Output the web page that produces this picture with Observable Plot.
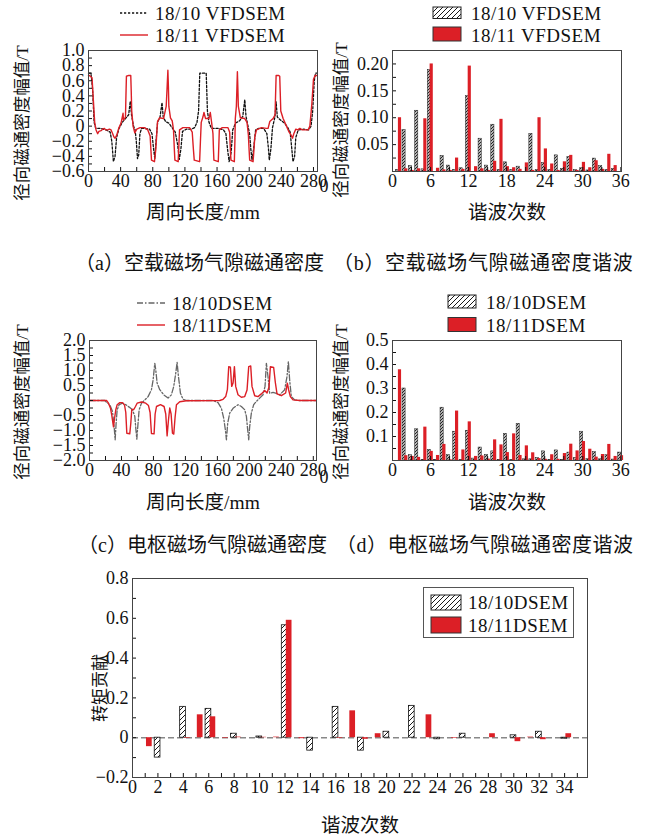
<!DOCTYPE html>
<html><head><meta charset="utf-8">
<script src="https://cdn.jsdelivr.net/npm/d3@7"></script>
<script src="https://cdn.jsdelivr.net/npm/@observablehq/plot@0.6"></script>
<style>
body{margin:0;background:#fff;}
#root{position:relative;width:646px;height:839px;overflow:hidden;background:#fff;}
</style></head><body>
<svg width="0" height="0" style="position:absolute">
<defs>
<pattern id="hatchS" patternUnits="userSpaceOnUse" width="3" height="3">
<rect width="3" height="3" fill="#b4b4b4"/>
<path d="M-1,1 l2,-2 M0,3 l3,-3 M2,4 l2,-2" stroke="#000" stroke-width="0.8"/>
</pattern>
<pattern id="hatchL" patternUnits="userSpaceOnUse" width="5" height="5">
<rect width="5" height="5" fill="#fff"/>
<path d="M-1,1 l2,-2 M0,5 l5,-5 M4,6 l2,-2" stroke="#000" stroke-width="0.9"/>
</pattern>
</defs></svg>
<div id="root"></div>
<script>
// ---------- data ----------
// (a) no-load air-gap flux density [mm, T]
const noLoad1810 = [[0,0.7],[3,0.7],[5,0.5],[7,0.05],[9,-0.03],[15,-0.03],[22,-0.05],[27,-0.08],[29,-0.2],[31,-0.47],[33,-0.4],[35,-0.15],[38,-0.03],[42,0.05],[46,0.1],[50,0.15],[52,0.33],[53.5,0.15],[56,0.0],[58,-0.05],[59.5,-0.2],[61,-0.43],[62.5,-0.38],[64,-0.1],[66,-0.03],[70,-0.03],[76,-0.04],[79,-0.1],[81,-0.3],[82.5,-0.43],[84,-0.2],[86,0.05],[89,0.12],[91.5,0.31],[93,0.12],[96,0.06],[100,0.04],[104,-0.02],[108,-0.08],[111,-0.25],[113,-0.44],[115,-0.3],[117,-0.07],[122,-0.04],[128,-0.04],[132,-0.02],[135,0.05],[137,0.2],[138.5,0.7],[146.5,0.7],[148,0.2],[150,0.05],[153,-0.03],[162,-0.03],[168,-0.05],[171,-0.1],[173,-0.3],[175,-0.47],[177.5,-0.35],[179.5,-0.05],[183,0.04],[188,0.07],[192,0.13],[194.5,0.35],[196,0.13],[198.5,0.0],[200.5,-0.1],[202,-0.3],[203.5,-0.45],[205.5,-0.3],[208,-0.05],[212,-0.03],[218,-0.03],[222,-0.1],[224,-0.3],[225,-0.45],[227,-0.3],[229,-0.02],[232,0.12],[233.5,0.32],[235,0.12],[239,0.08],[244,0.04],[248,-0.02],[251,-0.08],[253,-0.3],[254.5,-0.47],[256.5,-0.4],[258,-0.15],[261,-0.05],[268,-0.04],[274,-0.05],[277,0.0],[279,0.2],[281,0.6],[282.5,0.7],[284.5,0.7]];
const noLoad1811 = [[0,0.67],[1,0.67],[4.4,0.64],[6,0.35],[7.7,0.05],[9.4,-0.05],[11.4,-0.1],[13,-0.07],[15.6,-0.06],[17.5,-0.04],[19.8,-0.03],[21.5,-0.05],[23.9,-0.05],[26,-0.04],[28.1,-0.05],[30.1,-0.1],[31.5,-0.14],[33.1,-0.16],[35.1,-0.12],[37.6,-0.03],[40.5,0.04],[43,0.17],[43.5,0.08],[46,0.12],[46.6,0.4],[47.2,0.66],[50.1,0.67],[52.6,0.67],[53.2,0.45],[53.8,0.2],[55.5,0.0],[57.6,-0.09],[60.1,-0.04],[64.2,-0.02],[69.6,-0.02],[73.8,-0.05],[76.7,-0.13],[77.6,-0.3],[78.4,-0.45],[82.1,-0.47],[83.8,-0.3],[85.9,0.06],[88.4,0.11],[93.4,0.1],[96.7,0.26],[98,0.55],[98.8,0.74],[99.5,0.5],[100,0.26],[102,0.11],[104.2,0.07],[105.8,-0.05],[106.8,-0.3],[107.5,-0.45],[111.6,-0.47],[112.5,-0.25],[113.3,-0.05],[117.5,-0.02],[125.8,-0.02],[129.1,-0.08],[130.5,-0.3],[131.6,-0.45],[138.3,-0.47],[139.3,-0.2],[140.3,0.05],[142.4,0.12],[143.7,0.18],[145.7,0.1],[149.9,0.1],[151.6,0.18],[153.2,0.05],[154.9,-0.1],[155.5,-0.3],[156.1,-0.45],[161.5,-0.47],[162.2,-0.25],[162.8,-0.05],[166.5,-0.02],[173.6,-0.02],[175.7,-0.08],[176.5,-0.3],[177.3,-0.45],[181.5,-0.47],[182.2,-0.2],[182.7,0.1],[184,0.26],[184.7,0.5],[185.3,0.72],[185.9,0.5],[186.5,0.26],[189,0.11],[194.4,0.1],[197.3,0.05],[199,-0.12],[199.8,-0.3],[200.6,-0.45],[204.8,-0.47],[206,-0.3],[206.9,-0.15],[209,-0.05],[215.2,-0.02],[221.4,-0.03],[223.5,-0.03],[225.6,0.06],[229.7,0.1],[232.2,0.15],[232.8,0.4],[233.5,0.67],[236.8,0.67],[238,0.66],[238.6,0.45],[239.3,0.2],[242.2,0.1],[246.4,0.0],[249.7,-0.08],[252.2,-0.12],[253.9,-0.16],[255.5,-0.1],[258,-0.04],[260.5,-0.05],[263,-0.03],[266,-0.05],[269.2,-0.05],[273.4,-0.05],[275.5,0.0],[278,0.3],[280,0.62],[282,0.67],[284.5,0.67]];
// (c) armature air-gap flux density [mm, T]
const arm1810 = [[0,0],[19.2,0],[21.3,-0.06],[25.4,-0.14],[28.8,-0.37],[30.8,-0.87],[32.1,-1.31],[33.3,-0.76],[34.6,-0.31],[37.1,-0.14],[41.3,-0.09],[45.4,-0.14],[49.6,-0.22],[53.8,-0.31],[56.7,-0.53],[57.9,-0.92],[59.2,-1.29],[60.4,-0.87],[62.1,-0.31],[65,-0.09],[69.2,0.02],[73.3,0.13],[77.5,0.36],[79.6,0.69],[81.7,1.24],[82.9,1.02],[84.6,0.58],[87.9,0.36],[92.9,0.19],[98.3,0.08],[102.5,0.19],[105.4,0.47],[107.9,0.91],[109.6,1.27],[111.3,0.8],[113.8,0.24],[117.1,0.04],[121.3,0],[154.6,0],[160.8,-0.07],[165,-0.26],[167.9,-0.59],[170,-0.98],[171.3,-1.31],[172.9,-0.76],[175.4,-0.42],[179.6,-0.26],[185.8,-0.14],[190,-0.2],[194.2,-0.31],[196.3,-0.53],[197.9,-0.98],[199.2,-1.31],[200.4,-0.87],[202.5,-0.42],[205.4,-0.14],[208.8,-0.03],[212.9,0.08],[217.1,0.19],[219.6,0.47],[221.3,1.24],[223.3,0.8],[225.4,0.24],[229.6,0.27],[233.8,0.24],[237.9,0.19],[244.2,0.36],[247.1,0.8],[248.8,1.3],[250.4,0.69],[252.5,0.13],[256.7,0.02],[262.9,0],[283.7,0]];
const arm1811 = [[0,0],[21.3,0],[23.3,-0.07],[26.3,-0.26],[27.9,-0.5],[30,-0.88],[31.3,-0.6],[32.9,-0.31],[34.6,-0.14],[37.9,-0.07],[41.3,-0.07],[43.8,-0.15],[45.4,-0.4],[46.7,-1.09],[50.4,-1.11],[51.7,-0.75],[52.9,-0.3],[55.4,-0.3],[57.5,-0.2],[59.6,-0.09],[65,-0.05],[70.4,-0.09],[73.8,-0.17],[75.8,-0.4],[77.5,-1.1],[80.8,-1.11],[82.1,-0.45],[83.8,-0.2],[88.8,-0.14],[93.3,-0.2],[95.4,-0.45],[97.1,-1.18],[98.8,-0.65],[100.4,-0.25],[102.1,-0.45],[103.8,-1.09],[105.4,-1.12],[107.1,-0.55],[108.8,-0.14],[112.9,-0.04],[121.3,-0.01],[162.9,0],[167.1,0.04],[170.4,0.13],[172.5,0.36],[174.2,1.13],[176.3,1.11],[177.9,0.47],[179.6,0.58],[181.3,1.13],[182.9,0.47],[185.8,0.19],[190,0.11],[194.2,0.13],[197.1,0.35],[199.2,1.13],[201.7,1.15],[203.3,0.47],[206.7,0.16],[210.8,0.13],[215,0.22],[219.2,0.33],[222.1,0.25],[224.6,0.45],[226.3,1.13],[230.4,1.1],[232.5,0.6],[234.6,0.22],[240,0.16],[245.4,0.25],[247.5,0.58],[249.2,0.35],[251.3,0.13],[254.6,0.02],[262.9,0],[283.7,0]];
// (b) no-load harmonics
const harmB = [1,2,3,4,5,6,7,8,9,10,11,12,13,14,15,16,17,18,19,20,21,22,23,24,25,26,27,28,29,30,31,32,33,34,35];
const b1810 = [0.003,0.077,0.010,0.113,0.004,0.189,0.000,0.029,0.011,0.003,0.006,0.140,0.000,0.061,0.011,0.087,0.003,0.017,0.003,0.009,0.000,0.070,0.003,0.016,0.003,0.030,0.005,0.027,0.003,0.006,0.002,0.024,0.010,0.003,0.005];
const b1811 = [0.100,0.005,0.002,0.005,0.098,0.200,0.006,0.003,0.002,0.025,0.004,0.196,0.009,0.005,0.002,0.019,0.097,0.009,0.007,0.004,0.016,0.002,0.100,0.042,0.014,0.002,0.018,0.030,0.002,0.017,0.007,0.020,0.004,0.032,0.011];
// (d) armature harmonics
const harmD = [1,2,3,4,5,6,7,8,9,10,11,12,13,14,15,16,17,18,19,20,21,22,23,24,25,26,27,28,29,30,31,32,33,34,35,36];
const d1810 = [0.000,0.300,0.022,0.130,0.003,0.044,0.003,0.220,0.022,0.120,0.003,0.124,0.008,0.054,0.024,0.038,0.003,0.111,0.003,0.153,0.005,0.005,0.011,0.038,0.003,0.042,0.003,0.033,0.010,0.120,0.006,0.035,0.005,0.022,0.004,0.033];
const d1811 = [0.378,0.020,0.017,0.013,0.139,0.038,0.021,0.067,0.003,0.206,0.044,0.161,0.017,0.019,0.006,0.086,0.065,0.033,0.111,0.021,0.061,0.032,0.008,0.005,0.024,0.005,0.029,0.068,0.040,0.079,0.047,0.014,0.025,0.067,0.017,0.020];
// (e) torque contribution
const harmE = [1,2,3,4,5,6,7,8,9,10,11,12,13,14,15,16,17,18,19,20,21,22,23,24,25,26,27,28,29,30,31,32,33,34,35];
const e1810 = [0,-0.100,0,0.155,0,0.145,0,0.020,0,0.006,0,0.565,0,-0.065,0,0.155,0,-0.065,0,0.030,0,0.160,0,-0.008,0,0.020,0,0,0,0.012,0,0.030,0,-0.005,0];
const e1811 = [-0.045,0,0,-0.003,0.115,0.105,-0.003,0.003,0,0.002,0.003,0.590,-0.005,0,0,-0.003,0.135,-0.008,0.020,0,0,0,0.115,0,-0.003,0,0,0.020,0,-0.020,0.003,-0.010,0,0.020,0];
// ticks
const mmTicks = [0,20,40,60,80,100,120,140,160,180,200,220,240,260,280];
const mmLabels = [0,40,80,120,160,200,240,280];
const aYTicks = [-0.6,-0.5,-0.4,-0.3,-0.2,-0.1,0,0.1,0.2,0.3,0.4,0.5,0.6,0.7,0.8,0.9,1.0];
const aYLabels = [-0.6,-0.4,-0.2,0,0.2,0.4,0.6,0.8,1.0];
const cYTicks = [-2,-1.75,-1.5,-1.25,-1,-0.75,-0.5,-0.25,0,0.25,0.5,0.75,1,1.25,1.5,1.75,2];
const cYLabels = [-2,-1.5,-1,-0.5,0,0.5,1,1.5,2];
const hTicks = [0,3,6,9,12,15,18,21,24,27,30,33,36];
const hLabels = [0,6,12,18,24,30,36];
const bYTicks = [0.025,0.05,0.075,0.1,0.125,0.15,0.175,0.2];
const bYLabels = [0.05,0.10,0.15,0.20];
const dYTicks = [0.05,0.1,0.15,0.2,0.25,0.3,0.35,0.4,0.45,0.5];
const dYLabels = [0.1,0.2,0.3,0.4,0.5];
const eXTicks = [0,1,2,3,4,5,6,7,8,9,10,11,12,13,14,15,16,17,18,19,20,21,22,23,24,25,26,27,28,29,30,31,32,33,34,35];
const eXLabels = [0,2,4,6,8,10,12,14,16,18,20,22,24,26,28,30,32,34];
const eYTicks = [-0.2,-0.1,0,0.1,0.2,0.3,0.4,0.5,0.6,0.7,0.8];
const eYLabels = [-0.2,0,0.2,0.4,0.6,0.8];

// ---------- drawing ----------
const root = document.getElementById("root");
const SERIF = "'Liberation Serif','Noto Sans CJK SC',serif";
const RED = "#dc1f26";
const fmt = k => d => d === 0 ? "0" : (d < 0 ? "−" : "") + Math.abs(d).toFixed(k);

function panel(o) {
  const p = Plot.plot({
    width: o.width, height: o.height,
    marginTop: o.m[0], marginRight: o.m[1], marginBottom: o.m[2], marginLeft: o.m[3],
    x: {domain: o.xDomain}, y: {domain: o.yDomain},
    style: {fontFamily: SERIF, fontSize: "18px", color: "#111", background: "transparent", overflow: "visible"},
    marks: [
      ...o.marks,
      Plot.axisX(o.xTicks, {tickSize: -4, tickFormat: () => "", label: null}),
      Plot.axisX(o.xLabels, {tickSize: 0, tickPadding: 3, tickFormat: o.xFmt, label: null}),
      Plot.axisY(o.yTicks, {tickSize: -4, tickFormat: () => "", label: null}),
      Plot.axisY(o.yLabels, {tickSize: 0, tickPadding: 4, tickFormat: o.yFmt, label: null}),
      Plot.frame({stroke: "#444", strokeWidth: 1})
    ]
  });
  p.style.position = "absolute";
  p.style.left = o.left + "px";
  p.style.top = o.top + "px";
  root.appendChild(p);
}

function label(text, x, y, {size = 18, anchor = "start", rotate = false, spacing = 0} = {}) {
  const d = document.createElement("div");
  d.textContent = text;
  d.style.cssText = `position:absolute;left:${x}px;top:${y}px;font-family:${SERIF};font-size:${size}px;line-height:1;white-space:nowrap;color:#111;letter-spacing:${spacing}px;`;
  const tx = anchor === "middle" ? "-50%" : anchor === "end" ? "-100%" : "0";
  d.style.transform = rotate ? "translate(-50%,-50%) rotate(-90deg)" : `translate(${tx},-50%)`;
  root.appendChild(d);
}

const xy = {x: d => d[0], y: d => d[1]};

// (a)
panel({left: 0, top: 0, width: 330, height: 240, m: [50, 13, 69, 88],
  xDomain: [0, 285], yDomain: [-0.6, 1.0],
  xTicks: mmTicks, xLabels: mmLabels, yTicks: aYTicks, yLabels: aYLabels, xFmt: d => String(d), yFmt: fmt(1),
  marks: [
    Plot.line(noLoad1810, {...xy, stroke: "#111", strokeWidth: 1.3, strokeDasharray: "2.2,1.8"}),
    Plot.line(noLoad1811, {...xy, stroke: RED, strokeWidth: 1.4})
  ]});

// (b)
const dataB = harmB.map((h, i) => ({h, v10: b1810[i], v11: b1811[i]}));
panel({left: 320, top: 0, width: 326, height: 240, m: [50, 25, 69, 72],
  xDomain: [0, 36.1], yDomain: [0, 0.225],
  xTicks: hTicks, xLabels: hLabels, yTicks: bYTicks, yLabels: bYLabels, xFmt: d => String(d), yFmt: d => d.toFixed(2),
  marks: [
    Plot.rect(dataB, {x1: d => d.h - 0.43, x2: d => d.h + 0.07, y1: () => 0, y2: "v10", fill: "url(#hatchS)", stroke: "#222", strokeWidth: 0.5}),
    Plot.rect(dataB, {x1: d => d.h - 0.07, x2: d => d.h + 0.43, y1: () => 0, y2: "v11", fill: RED})
  ]});

// (c)
panel({left: 0, top: 280, width: 330, height: 240, m: [60, 14, 60, 89],
  xDomain: [0, 284], yDomain: [-2, 2],
  xTicks: mmTicks, xLabels: mmLabels, yTicks: cYTicks, yLabels: cYLabels, xFmt: d => String(d), yFmt: fmt(1),
  marks: [
    Plot.line(arm1810, {...xy, stroke: "#666", strokeWidth: 1.3, strokeDasharray: "6,2,1.5,2"}),
    Plot.line(arm1811, {...xy, stroke: RED, strokeWidth: 1.4})
  ]});

// (d)
const dataD = harmD.map((h, i) => ({h, v10: d1810[i], v11: d1811[i]}));
panel({left: 320, top: 280, width: 326, height: 240, m: [60, 25, 60, 72],
  xDomain: [0, 36.1], yDomain: [0, 0.5],
  xTicks: hTicks, xLabels: hLabels, yTicks: dYTicks, yLabels: dYLabels, xFmt: d => String(d), yFmt: d => d.toFixed(1),
  marks: [
    Plot.rect(dataD, {x1: d => d.h - 0.43, x2: d => d.h + 0.07, y1: () => 0, y2: "v10", fill: "url(#hatchS)", stroke: "#222", strokeWidth: 0.5}),
    Plot.rect(dataD, {x1: d => d.h - 0.07, x2: d => d.h + 0.43, y1: () => 0, y2: "v11", fill: RED})
  ]});

// (e)
const dataE = harmE.map((h, i) => ({h, v10: e1810[i], v11: e1811[i]}));
panel({left: 0, top: 560, width: 646, height: 279, m: [18, 59, 62, 132],
  xDomain: [0, 35.8], yDomain: [-0.2, 0.8],
  xTicks: eXTicks, xLabels: eXLabels, yTicks: eYTicks, yLabels: eYLabels, xFmt: d => String(d), yFmt: fmt(1),
  marks: [
    Plot.ruleY([0], {stroke: "#888", strokeWidth: 1.5, strokeDasharray: "6,3"}),
    Plot.rect(dataE.filter(d => d.v10 !== 0), {x1: d => d.h - 0.25, x2: d => d.h + 0.2, y1: () => 0, y2: "v10", fill: "url(#hatchL)", stroke: "#111", strokeWidth: 0.8}),
    Plot.rect(dataE.filter(d => d.v11 !== 0), {x1: d => d.h + 0.1, x2: d => d.h + 0.55, y1: () => 0, y2: "v11", fill: RED})
  ]});

// ---------- legends (overlay) ----------
const ov = d3.select(root).append("svg").attr("width", 646).attr("height", 839)
  .style("position", "absolute").style("left", "0px").style("top", "0px").style("pointer-events", "none");
// (a)
ov.append("line").attr("x1", 120).attr("x2", 148).attr("y1", 13).attr("y2", 13).attr("stroke", "#111").attr("stroke-width", 1.3).attr("stroke-dasharray", "2.2,1.8");
ov.append("line").attr("x1", 120).attr("x2", 148).attr("y1", 35).attr("y2", 35).attr("stroke", RED).attr("stroke-width", 1.4);
// (b)
ov.append("rect").attr("x", 433).attr("y", 7).attr("width", 28).attr("height", 11.5).attr("fill", "url(#hatchL)").attr("stroke", "#222");
ov.append("rect").attr("x", 433).attr("y", 27).attr("width", 28).attr("height", 14).attr("fill", RED).attr("stroke", "#333");
// (c)
ov.append("line").attr("x1", 137).attr("x2", 165).attr("y1", 303).attr("y2", 303).attr("stroke", "#666").attr("stroke-width", 1.3).attr("stroke-dasharray", "6,2,1.5,2");
ov.append("line").attr("x1", 137).attr("x2", 165).attr("y1", 325).attr("y2", 325).attr("stroke", RED).attr("stroke-width", 1.4);
// (d)
ov.append("rect").attr("x", 448).attr("y", 295).attr("width", 28).attr("height", 13).attr("fill", "url(#hatchL)").attr("stroke", "#222");
ov.append("rect").attr("x", 448).attr("y", 317.5).attr("width", 28).attr("height", 14).attr("fill", RED).attr("stroke", "#333");
// (e)
ov.append("rect").attr("x", 423.5).attr("y", 587.5).attr("width", 150).attr("height", 50).attr("fill", "#fff").attr("stroke", "#555");
ov.append("rect").attr("x", 431).attr("y", 595).attr("width", 30).attr("height", 15).attr("fill", "url(#hatchL)").attr("stroke", "#222");
ov.append("rect").attr("x", 431).attr("y", 617).attr("width", 30).attr("height", 16).attr("fill", RED).attr("stroke", "#333");

// ---------- texts ----------
label("18/10 VFDSEM", 155, 13, {size: 19, spacing: 0.5});
label("18/11 VFDSEM", 155, 35, {size: 19, spacing: 0.5});
label("18/10 VFDSEM", 471, 13, {size: 19, spacing: 0.5});
label("18/11 VFDSEM", 471, 35, {size: 19, spacing: 0.5});
label("18/10DSEM", 172, 303, {size: 19, spacing: 0.5});
label("18/11DSEM", 172, 325, {size: 19, spacing: 0.5});
label("18/10DSEM", 486, 302, {size: 19, spacing: 0.5});
label("18/11DSEM", 486, 325, {size: 19, spacing: 0.5});
label("18/10DSEM", 468, 602, {size: 19, spacing: 0.5});
label("18/11DSEM", 468, 625, {size: 19, spacing: 0.5});

label("径向磁通密度幅值/T", 23, 123, {size: 17.5, rotate: true});
label("径向磁通密度幅值/T", 342, 120, {size: 17.5, rotate: true});
label("径向磁通密度幅值/T", 23, 402, {size: 17.5, rotate: true});
label("径向磁通密度幅值/T", 342, 402, {size: 17.5, rotate: true});
label("转矩贡献", 100, 688, {size: 17, rotate: true});

label("周向长度/mm", 203, 213, {size: 19.5, anchor: "middle"});
label("谐波次数", 507, 213, {size: 19.5, anchor: "middle"});
label("周向长度/mm", 203, 503, {size: 19.5, anchor: "middle"});
label("谐波次数", 507, 503, {size: 19.5, anchor: "middle"});
label("谐波次数", 360, 826, {size: 19.5, anchor: "middle"});

label("0", 324, 186, {size: 18, anchor: "middle"});
label("0", 324, 477, {size: 18, anchor: "middle"});

label("（a）空载磁场气隙磁通密度", 75, 263, {size: 20});
label("（b）空载磁场气隙磁通密度谐波", 333, 263, {size: 20, spacing: 0.7});
label("（c）电枢磁场气隙磁通密度", 78, 545, {size: 20});
label("（d）电枢磁场气隙磁通密度谐波", 336, 545, {size: 20, spacing: 0.5});
</script>
</body></html>
